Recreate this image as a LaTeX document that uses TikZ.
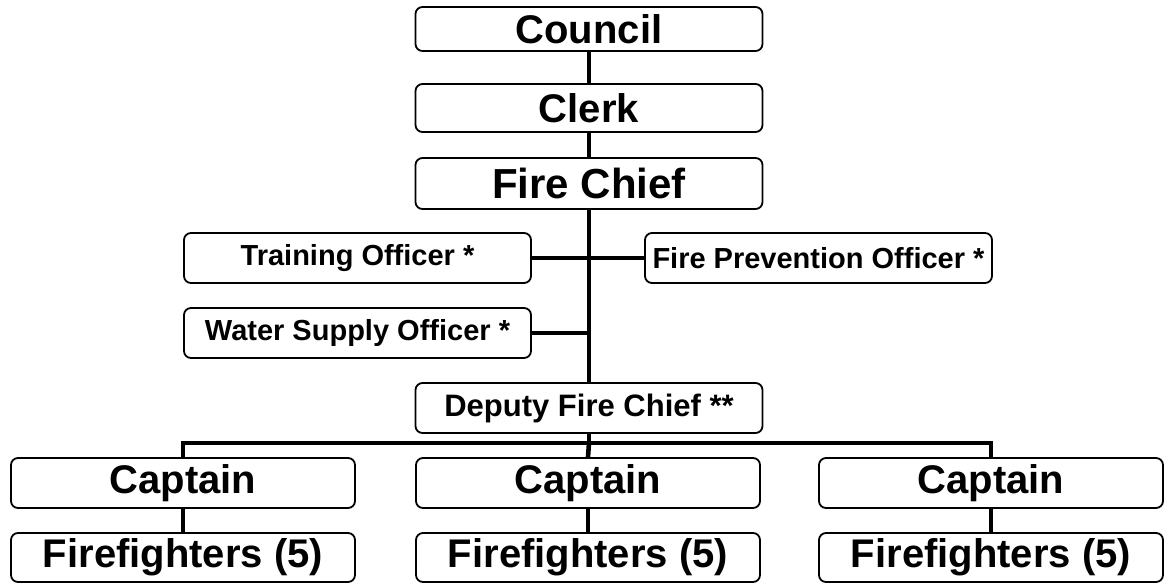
\documentclass[tikz,border=0pt]{standalone}
\usepackage{fontspec}
\setmainfont{Liberation Sans}
\begin{document}
\begin{tikzpicture}[x=1pt,y=-1pt,
  box/.style={draw=black, line width=1.8pt, rounded corners=7pt, fill=white,
    minimum width=347pt, minimum height=48pt, inner sep=0pt, font=\bfseries},
  big/.style={box, font=\fontsize{40}{44}\selectfont\bfseries},
  mid/.style={box, font=\fontsize{29}{32}\selectfont\bfseries},
  link/.style={line width=4.6pt},
  thin/.style={line width=3.8pt}]
\useasboundingbox (0,0) rectangle (1164,584);
\fill[white] (0,0) rectangle (1164,584);
% nodes
\node[big, minimum height=44pt] (council) at (589,29) {Council};
\node[big] (clerk) at (589,108) {Clerk};
\node[big, minimum height=51pt, font=\fontsize{42}{46}\selectfont\bfseries] (chief) at (589,183.5) {Fire Chief};
\node[mid, minimum height=50pt] (train) at (357.5,258) {Training Officer *};
\node[mid, minimum height=50pt] (prev) at (818.5,258) {Fire Prevention Officer *};
\node[mid, minimum height=50pt] (water) at (357.5,333) {Water Supply Officer *};
\node[mid, minimum height=50pt, font=\fontsize{31}{34}\selectfont\bfseries] (deputy) at (589,408) {Deputy Fire Chief **};
\node[big, minimum width=344pt, minimum height=50pt] (capA) at (183,483) {Captain};
\node[big, minimum width=344pt, minimum height=50pt] (capB) at (588,483) {Captain};
\node[big, minimum width=344pt, minimum height=50pt] (capC) at (991,483) {Captain};
\node[big, minimum width=344pt, minimum height=49pt] (ffA) at (183,557.5) {Firefighters (5)};
\node[big, minimum width=344pt, minimum height=49pt] (ffB) at (588,557.5) {Firefighters (5)};
\node[big, minimum width=344pt, minimum height=49pt] (ffC) at (991,557.5) {Firefighters (5)};
% junction coordinates
\coordinate (jt) at (589,258);
\coordinate (jw) at (589,333);
\coordinate (bus) at (589,443);
% connectors
\draw[link] (council.south) -- (clerk.north);
\draw[link] (clerk.south) -- (chief.north);
\draw[link] (chief.south) -- (deputy.north);
\draw[link] (train.east) -- (jt) -- (prev.west);
\draw[link] (water.east) -- (jw);
\draw[link] (deputy.south) -- (bus);
\draw[link] (capA.north) |- (bus) -| (capC.north);
\draw[link] (bus) -- (capB.north);
\draw[thin] (capA.south) -- (ffA.north);
\draw[thin] (capB.south) -- (ffB.north);
\draw[thin] (capC.south) -- (ffC.north);
\end{tikzpicture}
\end{document}
